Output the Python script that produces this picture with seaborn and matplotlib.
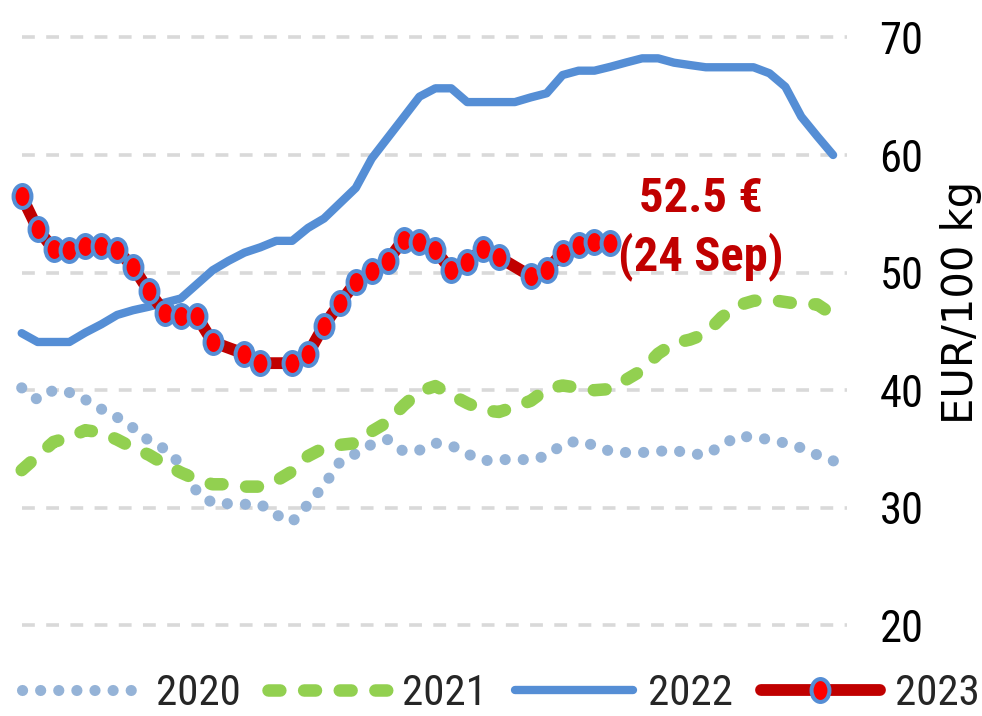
import numpy as np
import pandas as pd
import matplotlib
matplotlib.use("Agg")
import matplotlib.pyplot as plt
import seaborn as sns
from matplotlib import font_manager as fm
from matplotlib.path import Path
from matplotlib.transforms import Affine2D

# ---------------- data (EUR/100 kg, weekly) ----------------
v2020 = [40.2, 39.2, 40.0, 39.8, 39.2, 38.4, 37.7, 36.8, 35.7, 35.0,
         33.7, 31.4, 30.4, 30.35, 30.3, 30.3, 29.4, 28.8, 30.3, 31.9,
         33.9, 34.6, 35.4, 35.8, 34.8, 34.9, 35.5, 35.3, 34.6, 34.0,
         34.1, 34.1, 34.1, 34.4, 35.4, 35.7, 35.3, 34.8, 34.7, 34.7,
         34.8, 34.9, 34.6, 34.5, 35.3, 36.1, 36.0, 35.8, 35.5, 35.1,
         34.5, 34.0, 33.4]
v2021 = [33.2, 34.4, 35.6, 36.0, 36.6, 36.4, 35.8, 35.1, 34.5, 33.7,
         33.0, 32.4, 32.0, 32.0, 31.8, 31.8, 32.3, 33.1, 34.4, 35.1,
         35.35, 35.5, 36.5, 37.3, 38.7, 39.9, 40.35, 39.6, 38.9, 38.3,
         38.15, 38.6, 39.1, 40.1, 40.4, 40.2, 40.0, 40.1, 40.9, 41.7,
         43.1, 44.0, 44.3, 44.8, 46.2, 47.2, 47.6, 47.7, 47.5, 47.3,
         47.3, 46.4]
v2022 = [44.85, 44.1, 44.1, 44.1, 44.9, 45.6, 46.4, 46.8, 47.1, 47.45,
         47.8, 49.0, 50.2, 51.0, 51.7, 52.15, 52.7, 52.7, 53.8, 54.6,
         55.9, 57.2, 59.7, 61.45, 63.2, 64.96, 65.67, 65.67, 64.5, 64.5,
         64.5, 64.5, 64.9, 65.25, 66.8, 67.17, 67.17, 67.5, 67.87, 68.22,
         68.22, 67.85, 67.65, 67.46, 67.46, 67.46, 67.46, 66.95, 65.8, 63.26,
         61.6, 60.0]
v2023 = [56.5, 53.7, 52.0, 51.9, 52.3, 52.3, 51.9, 50.5, 48.4, 46.6,
         46.3, 46.3, 44.1, np.nan, 43.1, 42.3, np.nan, 42.3, 43.1, 45.5,
         47.4, 49.2, 50.1, 51.0, 52.8, 52.6, 51.9, 50.2, 50.9, 52.0,
         51.3, np.nan, 49.7, 50.2, 51.7, 52.35, 52.6, 52.5]
series_labels = ["2020", "2021", "2022", "2023"]
y_ticks = [20, 30, 40, 50, 60, 70]
note_value = "52.5 €"
note_date = "(24 Sep)"
y_title = "EUR/100 kg"

# ---------------- style ----------------
sns.set_theme(style="white")
names = {f.name for f in fm.fontManager.ttflist}
narrow = next((n for n in ["Liberation Sans Narrow", "Roboto Condensed",
                           "DejaVu Sans Condensed", "Liberation Sans"]
               if n in names), "DejaVu Sans")
plt.rcParams["font.family"] = [narrow, "DejaVu Sans"]

C2020, C2021, C2022 = "#95B3D7", "#92D050", "#558ED5"
C2023_LINE, C2023_FILL = "#C00000", "#FF0000"
GRID = "#D9D9D9"

fig = plt.figure(figsize=(9.82, 7.16), dpi=100)
W, H = 982.0, 716.0
x_left, x_right, y_top, y_bot = 21.7, 849.0, 37.4, 625.4
ax = fig.add_axes([x_left / W, 1 - y_bot / H, (x_right - x_left) / W, (y_bot - y_top) / H])


def frame(vals):
    df = pd.DataFrame({"week": np.arange(1, len(vals) + 1), "price": vals})
    return df.dropna()


# dashed horizontal gridlines at every tick value
for yv in y_ticks:
    ax.axhline(yv, xmin=0, xmax=0.997, color=GRID, linewidth=2.6,
               linestyle=(0, (3.55, 3.15)), dash_capstyle="butt",
               zorder=1, clip_on=False)

ell = Path.unit_circle().transformed(Affine2D().scale(0.78, 1.0))

sns.lineplot(data=frame(v2020), x="week", y="price", ax=ax, color=C2020,
             linewidth=8, linestyle=(0, (0.01, 1.62)), dash_capstyle="round",
             label=series_labels[0], clip_on=False, zorder=2)
sns.lineplot(data=frame(v2021), x="week", y="price", ax=ax, color=C2021,
             linewidth=9, linestyle=(0, (0.95, 1.9)), dash_capstyle="round",
             label=series_labels[1], clip_on=False, zorder=3)
sns.lineplot(data=frame(v2022), x="week", y="price", ax=ax, color=C2022,
             linewidth=6, solid_capstyle="round", solid_joinstyle="round",
             label=series_labels[2], clip_on=False, zorder=4)
sns.lineplot(data=frame(v2023), x="week", y="price", ax=ax, color=C2023_LINE,
             linewidth=8.5, solid_joinstyle="round", marker=ell, markersize=16.5,
             markerfacecolor=C2023_FILL, markeredgecolor=C2022, markeredgewidth=2.9,
             label=series_labels[3], clip_on=False, zorder=5)

ax.set_xlim(1, 53)
ax.set_ylim(20, 70)
ax.set_xticks([])
ax.set_yticks(y_ticks)
ax.set_xlabel("")
ax.yaxis.tick_right()
ax.tick_params(axis="y", length=0, pad=22, labelsize=32, labelcolor="black")
ax.grid(False)
for s in ax.spines.values():
    s.set_visible(False)

ax.yaxis.set_label_position("right")
ax.set_ylabel(y_title, fontsize=30, family="DejaVu Sans", color="black")
ax.yaxis.label.set_verticalalignment("center")
ax.yaxis.set_label_coords(1.135, 0.55)

ax.text(43.7, 55.18, note_value, ha="center", va="baseline", fontsize=35,
        fontweight="bold", color=C2023_LINE)
ax.text(43.7, 50.2, note_date, ha="center", va="baseline", fontsize=35,
        fontweight="bold", color=C2023_LINE)

handles, labels = ax.get_legend_handles_labels()
if ax.get_legend() is not None:
    ax.get_legend().remove()
fig.legend(handles, labels, loc="lower center", bbox_to_anchor=(0.51, 0.003),
           ncol=4, frameon=False, fontsize=31, handlelength=2.75,
           handletextpad=0.35, columnspacing=0.65, borderpad=0,
           borderaxespad=0, numpoints=1)

fig.savefig("out.png", dpi=100)
